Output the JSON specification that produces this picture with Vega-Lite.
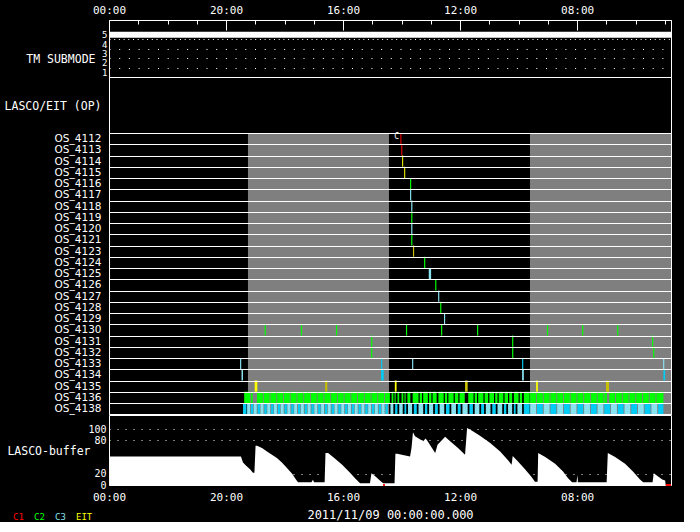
{
  "$schema": "https://vega.github.io/schema/vega-lite/v6.json",
  "background": "black",
  "padding": {"left": 3, "top": 3, "right": 0, "bottom": 0},
  "bounds": "flush",
  "spacing": 0,
  "config": {
    "view": {"stroke": "white", "strokeWidth": 1},
    "axis": {"labelColor": "white", "titleColor": "white", "labelFont": "DejaVu Sans Mono", "titleFont": "DejaVu Sans Mono", "titleFontWeight": "normal", "domainColor": "white", "tickColor": "white", "labelOverlap": false, "labelFlush": false},
    "legend": {"labelFont": "DejaVu Sans Mono"}
  },
  "datasets": {
    "mode": [{"t": 0, "mode": 5}, {"t": 19.21, "mode": 5}],
    "bg": [{"s": 4.75, "e": 9.57}, {"s": 14.39, "e": 19.21}],
    "ev": [
      {"os": "OS_4112", "s": 9.96, "e": 9.995, "c": "C1"},
      {"os": "OS_4113", "s": 9.99, "e": 10.025, "c": "C1"},
      {"os": "OS_4114", "s": 10.02, "e": 10.055, "c": "EIT"},
      {"os": "OS_4115", "s": 10.09, "e": 10.125, "c": "EIT"},
      {"os": "OS_4116", "s": 10.29, "e": 10.33, "c": "C2"},
      {"os": "OS_4117", "s": 10.29, "e": 10.33, "c": "C3"},
      {"os": "OS_4118", "s": 10.33, "e": 10.37, "c": "C3"},
      {"os": "OS_4119", "s": 10.33, "e": 10.37, "c": "C2"},
      {"os": "OS_4120", "s": 10.33, "e": 10.37, "c": "C3"},
      {"os": "OS_4121", "s": 10.33, "e": 10.37, "c": "C2"},
      {"os": "OS_4123", "s": 10.39, "e": 10.43, "c": "EITd"},
      {"os": "OS_4124", "s": 10.77, "e": 10.81, "c": "C2"},
      {"os": "OS_4125", "s": 10.93, "e": 11.01, "c": "C3"},
      {"os": "OS_4126", "s": 11.15, "e": 11.19, "c": "C2"},
      {"os": "OS_4127", "s": 11.25, "e": 11.29, "c": "C3"},
      {"os": "OS_4128", "s": 11.32, "e": 11.36, "c": "C2"},
      {"os": "OS_4129", "s": 11.45, "e": 11.49, "c": "C3"},
      {"os": "OS_4130", "s": 5.32, "e": 5.36, "c": "C2"},
      {"os": "OS_4130", "s": 6.56, "e": 6.6, "c": "C2"},
      {"os": "OS_4130", "s": 7.76, "e": 7.8, "c": "C2"},
      {"os": "OS_4130", "s": 10.15, "e": 10.19, "c": "C2"},
      {"os": "OS_4130", "s": 11.35, "e": 11.39, "c": "C2"},
      {"os": "OS_4130", "s": 12.58, "e": 12.62, "c": "C2"},
      {"os": "OS_4130", "s": 14.97, "e": 15.01, "c": "C2"},
      {"os": "OS_4130", "s": 16.17, "e": 16.21, "c": "C2"},
      {"os": "OS_4130", "s": 17.37, "e": 17.41, "c": "C2"},
      {"os": "OS_4131", "s": 8.96, "e": 9.0, "c": "C2"},
      {"os": "OS_4131", "s": 13.78, "e": 13.82, "c": "C2"},
      {"os": "OS_4131", "s": 18.56, "e": 18.6, "c": "C2"},
      {"os": "OS_4132", "s": 8.96, "e": 9.0, "c": "C2"},
      {"os": "OS_4132", "s": 13.78, "e": 13.82, "c": "C2"},
      {"os": "OS_4132", "s": 18.6, "e": 18.64, "c": "C2"},
      {"os": "OS_4133", "s": 4.48, "e": 4.52, "c": "C3"},
      {"os": "OS_4133", "s": 9.3, "e": 9.34, "c": "C3b"},
      {"os": "OS_4133", "s": 10.36, "e": 10.4, "c": "C3"},
      {"os": "OS_4133", "s": 14.12, "e": 14.16, "c": "C3b"},
      {"os": "OS_4133", "s": 18.94, "e": 18.98, "c": "C3"},
      {"os": "OS_4134", "s": 4.53, "e": 4.58, "c": "C3"},
      {"os": "OS_4134", "s": 9.3, "e": 9.39, "c": "C3b"},
      {"os": "OS_4134", "s": 14.12, "e": 14.18, "c": "C3"},
      {"os": "OS_4134", "s": 18.95, "e": 19.01, "c": "C3b"},
      {"os": "OS_4135", "s": 4.98, "e": 5.07, "c": "EIT"},
      {"os": "OS_4135", "s": 7.39, "e": 7.46, "c": "EITd"},
      {"os": "OS_4135", "s": 9.77, "e": 9.83, "c": "EIT"},
      {"os": "OS_4135", "s": 12.17, "e": 12.26, "c": "EITd"},
      {"os": "OS_4135", "s": 14.6, "e": 14.66, "c": "EIT"},
      {"os": "OS_4135", "s": 16.99, "e": 17.09, "c": "EITd"},
      {"os": "OS_4136", "s": 4.62, "e": 4.82, "c": "C2"},
      {"os": "OS_4136", "s": 4.85, "e": 4.91, "c": "C2"},
      {"os": "OS_4136", "s": 5.06, "e": 5.26, "c": "C2"},
      {"os": "OS_4136", "s": 5.29, "e": 5.49, "c": "C2"},
      {"os": "OS_4136", "s": 5.52, "e": 5.72, "c": "C2"},
      {"os": "OS_4136", "s": 5.75, "e": 5.95, "c": "C2"},
      {"os": "OS_4136", "s": 5.98, "e": 6.18, "c": "C2"},
      {"os": "OS_4136", "s": 6.21, "e": 6.41, "c": "C2"},
      {"os": "OS_4136", "s": 6.44, "e": 6.64, "c": "C2"},
      {"os": "OS_4136", "s": 6.67, "e": 6.87, "c": "C2"},
      {"os": "OS_4136", "s": 6.9, "e": 7.1, "c": "C2"},
      {"os": "OS_4136", "s": 7.13, "e": 7.33, "c": "C2"},
      {"os": "OS_4136", "s": 7.36, "e": 7.56, "c": "C2"},
      {"os": "OS_4136", "s": 7.59, "e": 7.79, "c": "C2"},
      {"os": "OS_4136", "s": 7.82, "e": 8.02, "c": "C2"},
      {"os": "OS_4136", "s": 8.05, "e": 8.25, "c": "C2"},
      {"os": "OS_4136", "s": 8.28, "e": 8.48, "c": "C2"},
      {"os": "OS_4136", "s": 8.51, "e": 8.71, "c": "C2"},
      {"os": "OS_4136", "s": 8.74, "e": 8.94, "c": "C2"},
      {"os": "OS_4136", "s": 8.97, "e": 9.17, "c": "C2"},
      {"os": "OS_4136", "s": 9.2, "e": 9.4, "c": "C2"},
      {"os": "OS_4136", "s": 9.43, "e": 9.6, "c": "C2"},
      {"os": "OS_4136", "s": 9.66, "e": 9.72, "c": "C2"},
      {"os": "OS_4136", "s": 9.76, "e": 9.8, "c": "C2"},
      {"os": "OS_4136", "s": 9.86, "e": 9.92, "c": "C2"},
      {"os": "OS_4136", "s": 10.0, "e": 10.06, "c": "C2"},
      {"os": "OS_4136", "s": 10.1, "e": 10.14, "c": "C2"},
      {"os": "OS_4136", "s": 10.2, "e": 10.3, "c": "C2"},
      {"os": "OS_4136", "s": 10.38, "e": 10.58, "c": "C2"},
      {"os": "OS_4136", "s": 10.62, "e": 10.7, "c": "C2"},
      {"os": "OS_4136", "s": 10.74, "e": 10.9, "c": "C2"},
      {"os": "OS_4136", "s": 10.94, "e": 11.02, "c": "C2"},
      {"os": "OS_4136", "s": 11.06, "e": 11.2, "c": "C2"},
      {"os": "OS_4136", "s": 11.26, "e": 11.44, "c": "C2"},
      {"os": "OS_4136", "s": 11.48, "e": 11.56, "c": "C2"},
      {"os": "OS_4136", "s": 11.6, "e": 11.78, "c": "C2"},
      {"os": "OS_4136", "s": 11.82, "e": 11.94, "c": "C2"},
      {"os": "OS_4136", "s": 11.98, "e": 12.16, "c": "C2"},
      {"os": "OS_4136", "s": 12.28, "e": 12.46, "c": "C2"},
      {"os": "OS_4136", "s": 12.5, "e": 12.58, "c": "C2"},
      {"os": "OS_4136", "s": 12.62, "e": 12.8, "c": "C2"},
      {"os": "OS_4136", "s": 12.84, "e": 12.96, "c": "C2"},
      {"os": "OS_4136", "s": 13.0, "e": 13.16, "c": "C2"},
      {"os": "OS_4136", "s": 13.2, "e": 13.28, "c": "C2"},
      {"os": "OS_4136", "s": 13.32, "e": 13.48, "c": "C2"},
      {"os": "OS_4136", "s": 13.52, "e": 13.64, "c": "C2"},
      {"os": "OS_4136", "s": 13.68, "e": 13.78, "c": "C2"},
      {"os": "OS_4136", "s": 13.84, "e": 14.0, "c": "C2"},
      {"os": "OS_4136", "s": 14.04, "e": 14.12, "c": "C2"},
      {"os": "OS_4136", "s": 14.18, "e": 14.38, "c": "C2"},
      {"os": "OS_4136", "s": 14.4, "e": 14.6, "c": "C2"},
      {"os": "OS_4136", "s": 14.63, "e": 14.83, "c": "C2"},
      {"os": "OS_4136", "s": 14.86, "e": 15.06, "c": "C2"},
      {"os": "OS_4136", "s": 15.09, "e": 15.29, "c": "C2"},
      {"os": "OS_4136", "s": 15.32, "e": 15.52, "c": "C2"},
      {"os": "OS_4136", "s": 15.55, "e": 15.75, "c": "C2"},
      {"os": "OS_4136", "s": 15.78, "e": 15.98, "c": "C2"},
      {"os": "OS_4136", "s": 16.01, "e": 16.21, "c": "C2"},
      {"os": "OS_4136", "s": 16.24, "e": 16.44, "c": "C2"},
      {"os": "OS_4136", "s": 16.47, "e": 16.67, "c": "C2"},
      {"os": "OS_4136", "s": 16.7, "e": 16.9, "c": "C2"},
      {"os": "OS_4136", "s": 16.93, "e": 17.02, "c": "C2"},
      {"os": "OS_4136", "s": 17.1, "e": 17.3, "c": "C2"},
      {"os": "OS_4136", "s": 17.33, "e": 17.53, "c": "C2"},
      {"os": "OS_4136", "s": 17.56, "e": 17.76, "c": "C2"},
      {"os": "OS_4136", "s": 17.79, "e": 17.99, "c": "C2"},
      {"os": "OS_4136", "s": 18.02, "e": 18.22, "c": "C2"},
      {"os": "OS_4136", "s": 18.25, "e": 18.45, "c": "C2"},
      {"os": "OS_4136", "s": 18.48, "e": 18.68, "c": "C2"},
      {"os": "OS_4136", "s": 18.71, "e": 18.95, "c": "C2"},
      {"os": "OS_4138", "s": 4.58, "e": 4.7, "c": "C3b"},
      {"os": "OS_4138", "s": 4.72, "e": 4.82, "c": "C3"},
      {"os": "OS_4138", "s": 4.85, "e": 4.93, "c": "C3b"},
      {"os": "OS_4138", "s": 4.95, "e": 5.05, "c": "C3"},
      {"os": "OS_4138", "s": 5.08, "e": 5.16, "c": "C3b"},
      {"os": "OS_4138", "s": 5.18, "e": 5.28, "c": "C3"},
      {"os": "OS_4138", "s": 5.31, "e": 5.39, "c": "C3b"},
      {"os": "OS_4138", "s": 5.41, "e": 5.51, "c": "C3"},
      {"os": "OS_4138", "s": 5.54, "e": 5.62, "c": "C3b"},
      {"os": "OS_4138", "s": 5.64, "e": 5.74, "c": "C3"},
      {"os": "OS_4138", "s": 5.77, "e": 5.85, "c": "C3b"},
      {"os": "OS_4138", "s": 5.87, "e": 5.97, "c": "C3"},
      {"os": "OS_4138", "s": 6.0, "e": 6.08, "c": "C3b"},
      {"os": "OS_4138", "s": 6.1, "e": 6.2, "c": "C3"},
      {"os": "OS_4138", "s": 6.23, "e": 6.31, "c": "C3b"},
      {"os": "OS_4138", "s": 6.33, "e": 6.43, "c": "C3"},
      {"os": "OS_4138", "s": 6.46, "e": 6.54, "c": "C3b"},
      {"os": "OS_4138", "s": 6.56, "e": 6.66, "c": "C3"},
      {"os": "OS_4138", "s": 6.69, "e": 6.77, "c": "C3b"},
      {"os": "OS_4138", "s": 6.79, "e": 6.89, "c": "C3"},
      {"os": "OS_4138", "s": 6.92, "e": 7.0, "c": "C3b"},
      {"os": "OS_4138", "s": 7.02, "e": 7.12, "c": "C3"},
      {"os": "OS_4138", "s": 7.15, "e": 7.23, "c": "C3b"},
      {"os": "OS_4138", "s": 7.25, "e": 7.35, "c": "C3"},
      {"os": "OS_4138", "s": 7.38, "e": 7.46, "c": "C3b"},
      {"os": "OS_4138", "s": 7.48, "e": 7.58, "c": "C3"},
      {"os": "OS_4138", "s": 7.61, "e": 7.69, "c": "C3b"},
      {"os": "OS_4138", "s": 7.71, "e": 7.81, "c": "C3"},
      {"os": "OS_4138", "s": 7.84, "e": 7.92, "c": "C3b"},
      {"os": "OS_4138", "s": 7.94, "e": 8.04, "c": "C3"},
      {"os": "OS_4138", "s": 8.07, "e": 8.15, "c": "C3b"},
      {"os": "OS_4138", "s": 8.17, "e": 8.27, "c": "C3"},
      {"os": "OS_4138", "s": 8.3, "e": 8.38, "c": "C3b"},
      {"os": "OS_4138", "s": 8.4, "e": 8.5, "c": "C3"},
      {"os": "OS_4138", "s": 8.53, "e": 8.61, "c": "C3b"},
      {"os": "OS_4138", "s": 8.63, "e": 8.73, "c": "C3"},
      {"os": "OS_4138", "s": 8.76, "e": 8.84, "c": "C3b"},
      {"os": "OS_4138", "s": 8.86, "e": 8.96, "c": "C3"},
      {"os": "OS_4138", "s": 8.99, "e": 9.07, "c": "C3b"},
      {"os": "OS_4138", "s": 9.09, "e": 9.19, "c": "C3"},
      {"os": "OS_4138", "s": 9.22, "e": 9.3, "c": "C3b"},
      {"os": "OS_4138", "s": 9.32, "e": 9.42, "c": "C3"},
      {"os": "OS_4138", "s": 9.45, "e": 9.53, "c": "C3b"},
      {"os": "OS_4138", "s": 9.62, "e": 9.72, "c": "C3"},
      {"os": "OS_4138", "s": 9.78, "e": 9.86, "c": "C3b"},
      {"os": "OS_4138", "s": 9.92, "e": 10.04, "c": "C3"},
      {"os": "OS_4138", "s": 10.1, "e": 10.16, "c": "C3b"},
      {"os": "OS_4138", "s": 10.22, "e": 10.36, "c": "C3"},
      {"os": "OS_4138", "s": 10.42, "e": 10.52, "c": "C3b"},
      {"os": "OS_4138", "s": 10.58, "e": 10.74, "c": "C3"},
      {"os": "OS_4138", "s": 10.8, "e": 10.88, "c": "C3b"},
      {"os": "OS_4138", "s": 10.94, "e": 11.08, "c": "C3"},
      {"os": "OS_4138", "s": 11.14, "e": 11.24, "c": "C3b"},
      {"os": "OS_4138", "s": 11.3, "e": 11.46, "c": "C3"},
      {"os": "OS_4138", "s": 11.52, "e": 11.64, "c": "C3b"},
      {"os": "OS_4138", "s": 11.7, "e": 11.86, "c": "C3"},
      {"os": "OS_4138", "s": 11.92, "e": 12.02, "c": "C3b"},
      {"os": "OS_4138", "s": 12.08, "e": 12.26, "c": "C3"},
      {"os": "OS_4138", "s": 12.32, "e": 12.44, "c": "C3b"},
      {"os": "OS_4138", "s": 12.5, "e": 12.66, "c": "C3"},
      {"os": "OS_4138", "s": 12.72, "e": 12.82, "c": "C3b"},
      {"os": "OS_4138", "s": 12.88, "e": 13.04, "c": "C3"},
      {"os": "OS_4138", "s": 13.1, "e": 13.22, "c": "C3b"},
      {"os": "OS_4138", "s": 13.28, "e": 13.44, "c": "C3"},
      {"os": "OS_4138", "s": 13.5, "e": 13.58, "c": "C3b"},
      {"os": "OS_4138", "s": 13.64, "e": 13.78, "c": "C3"},
      {"os": "OS_4138", "s": 13.84, "e": 13.9, "c": "C3b"},
      {"os": "OS_4138", "s": 13.96, "e": 14.12, "c": "C3"},
      {"os": "OS_4138", "s": 14.18, "e": 14.38, "c": "C3b"},
      {"os": "OS_4138", "s": 14.4, "e": 14.6, "c": "C3"},
      {"os": "OS_4138", "s": 14.63, "e": 14.83, "c": "C3b"},
      {"os": "OS_4138", "s": 14.86, "e": 15.06, "c": "C3"},
      {"os": "OS_4138", "s": 15.09, "e": 15.29, "c": "C3b"},
      {"os": "OS_4138", "s": 15.32, "e": 15.52, "c": "C3"},
      {"os": "OS_4138", "s": 15.55, "e": 15.75, "c": "C3b"},
      {"os": "OS_4138", "s": 15.78, "e": 15.98, "c": "C3"},
      {"os": "OS_4138", "s": 16.01, "e": 16.21, "c": "C3b"},
      {"os": "OS_4138", "s": 16.24, "e": 16.44, "c": "C3"},
      {"os": "OS_4138", "s": 16.47, "e": 16.67, "c": "C3b"},
      {"os": "OS_4138", "s": 16.7, "e": 16.9, "c": "C3"},
      {"os": "OS_4138", "s": 16.93, "e": 17.13, "c": "C3b"},
      {"os": "OS_4138", "s": 17.16, "e": 17.36, "c": "C3"},
      {"os": "OS_4138", "s": 17.39, "e": 17.59, "c": "C3b"},
      {"os": "OS_4138", "s": 17.62, "e": 17.82, "c": "C3"},
      {"os": "OS_4138", "s": 17.85, "e": 18.05, "c": "C3b"},
      {"os": "OS_4138", "s": 18.08, "e": 18.28, "c": "C3"},
      {"os": "OS_4138", "s": 18.31, "e": 18.51, "c": "C3b"},
      {"os": "OS_4138", "s": 18.54, "e": 18.74, "c": "C3"},
      {"os": "OS_4138", "s": 18.77, "e": 18.95, "c": "C3b"}
    ],
    "mark": [{"os": "OS_4112", "t": 9.83, "label": "C"}],
    "buf": [
      {"t": 0, "v": 51}, {"t": 4.51, "v": 51}, {"t": 4.58, "v": 40}, {"t": 4.68, "v": 35}, {"t": 4.82, "v": 28}, {"t": 4.92, "v": 22}, {"t": 4.97, "v": 22},
      {"t": 5.01, "v": 70}, {"t": 5.06, "v": 70}, {"t": 5.23, "v": 66}, {"t": 5.4, "v": 60}, {"t": 5.57, "v": 54}, {"t": 5.74, "v": 48}, {"t": 5.91, "v": 40}, {"t": 6.09, "v": 30}, {"t": 6.26, "v": 20}, {"t": 6.39, "v": 10}, {"t": 6.46, "v": 5},
      {"t": 6.92, "v": 5}, {"t": 6.97, "v": 9.5}, {"t": 7.01, "v": 5}, {"t": 7.37, "v": 5},
      {"t": 7.4, "v": 57}, {"t": 7.49, "v": 57}, {"t": 7.73, "v": 47}, {"t": 7.97, "v": 36}, {"t": 8.24, "v": 22}, {"t": 8.41, "v": 12}, {"t": 8.58, "v": 3},
      {"t": 8.92, "v": 3}, {"t": 8.97, "v": 21}, {"t": 9.09, "v": 16}, {"t": 9.26, "v": 8}, {"t": 9.37, "v": 3}, {"t": 9.76, "v": 3},
      {"t": 9.79, "v": 56}, {"t": 9.85, "v": 56}, {"t": 10.29, "v": 51}, {"t": 10.34, "v": 66}, {"t": 10.39, "v": 94}, {"t": 10.46, "v": 87}, {"t": 10.74, "v": 78}, {"t": 10.82, "v": 83}, {"t": 10.87, "v": 80}, {"t": 11.15, "v": 57},
      {"t": 11.23, "v": 72}, {"t": 11.49, "v": 86}, {"t": 11.66, "v": 78}, {"t": 11.93, "v": 66}, {"t": 12.17, "v": 54},
      {"t": 12.24, "v": 102}, {"t": 12.41, "v": 97}, {"t": 12.68, "v": 88}, {"t": 13.03, "v": 75}, {"t": 13.37, "v": 60}, {"t": 13.64, "v": 44}, {"t": 13.76, "v": 36},
      {"t": 13.8, "v": 52}, {"t": 13.98, "v": 42}, {"t": 14.22, "v": 28}, {"t": 14.43, "v": 15}, {"t": 14.56, "v": 6}, {"t": 14.65, "v": 6},
      {"t": 14.67, "v": 57}, {"t": 14.91, "v": 50}, {"t": 15.25, "v": 38}, {"t": 15.52, "v": 24}, {"t": 15.69, "v": 12}, {"t": 15.83, "v": 5},
      {"t": 15.98, "v": 5}, {"t": 16.01, "v": 18}, {"t": 16.03, "v": 5}, {"t": 17.01, "v": 5},
      {"t": 17.05, "v": 57}, {"t": 17.3, "v": 50}, {"t": 17.64, "v": 38}, {"t": 17.91, "v": 24}, {"t": 18.15, "v": 10}, {"t": 18.26, "v": 5},
      {"t": 18.58, "v": 5}, {"t": 18.62, "v": 21}, {"t": 18.77, "v": 15}, {"t": 18.91, "v": 10}, {"t": 19.01, "v": 8}, {"t": 19.03, "v": 0}, {"t": 19.21, "v": 0}
    ],
    "zero": [{"s": 9.37, "e": 9.43, "v": 0}, {"s": 19.03, "e": 19.21, "v": 0}]
  },
  "vconcat": [
    {
      "width": 562,
      "height": 57,
      "data": {"name": "mode"},
      "layer": [
        {
          "mark": {"type": "line", "color": "white", "strokeWidth": 6, "strokeCap": "butt"},
          "encoding": {
            "x": {"field": "t", "type": "quantitative", "scale": {"domain": [0, 19.21], "nice": false, "zero": false},
              "axis": {"orient": "top", "values": [0, 4, 8, 12, 16], "tickSize": -10, "labelPadding": 15, "labelFontSize": 11, "grid": false, "title": null,
                "labelExpr": "(datum.value == 0 ? '00' : (24 - datum.value < 10 ? '0' : '') + (24 - datum.value)) + ':00'"}},
            "y": {"field": "mode", "type": "quantitative", "scale": {"domain": [0.5, 6.56], "nice": false, "zero": false},
              "axis": {"values": [1, 2, 3, 4, 5], "ticks": false, "domain": false, "grid": false, "labelPadding": 2, "labelFontSize": 9,
                "title": "TM SUBMODE", "titleAngle": 0, "titleAlign": "right", "titleBaseline": "middle", "titleX": -14, "titleY": 39, "titleFontSize": 11.5}}
          }
        },
        {
          "mark": {"type": "line", "opacity": 0},
          "encoding": {
            "x": {"field": "t", "type": "quantitative",
              "axis": {"orient": "top", "values": [1, 2, 3, 5, 6, 7, 9, 10, 11, 13, 14, 15, 17, 18, 19], "tickSize": -4, "labels": false, "domain": false, "grid": false, "title": null}},
            "y": {"field": "mode", "type": "quantitative",
              "axis": {"orient": "left", "values": [1.5, 2.5, 3.5, 4.5], "labels": false, "ticks": false, "domain": false, "title": null,
                "grid": true, "gridColor": "white", "gridWidth": 1,
                "gridDash": {"condition": {"test": "datum.value == 4.5", "value": [1, 3.7]}, "value": [1, 8.7]}}}
          }
        }
      ],
      "resolve": {"axis": {"x": "independent", "y": "independent"}}
    },
    {
      "width": 562,
      "height": 56,
      "data": {"name": "mode"},
      "mark": {"type": "point", "opacity": 0},
      "encoding": {
        "x": {"field": "t", "type": "quantitative", "scale": {"domain": [0, 19.21], "nice": false, "zero": false}, "axis": null},
        "y": {"field": "mode", "type": "quantitative", "scale": {"domain": [0, 10], "nice": false},
          "axis": {"labels": false, "ticks": false, "domain": false, "grid": false,
            "title": "LASCO/EIT (OP)", "titleAngle": 0, "titleAlign": "right", "titleBaseline": "middle", "titleX": -8, "titleY": 29, "titleFontSize": 11.5}}
      }
    },
    {
      "width": 562,
      "height": 281.25,
      "layer": [
        {
          "data": {"name": "bg"},
          "mark": {"type": "rect", "color": "#7f7f7f"},
          "encoding": {
            "x": {"field": "s", "type": "quantitative", "scale": {"domain": [0, 19.21], "nice": false, "zero": false}, "axis": null},
            "x2": {"field": "e"}
          }
        },
        {
          "data": {"name": "ev"},
          "mark": {"type": "rect"},
          "encoding": {
            "x": {"field": "s", "type": "quantitative", "axis": null},
            "x2": {"field": "e"},
            "y": {"field": "os", "type": "nominal",
              "scale": {"domain": ["OS_4112", "OS_4113", "OS_4114", "OS_4115", "OS_4116", "OS_4117", "OS_4118", "OS_4119", "OS_4120", "OS_4121", "OS_4123", "OS_4124", "OS_4125", "OS_4126", "OS_4127", "OS_4128", "OS_4129", "OS_4130", "OS_4131", "OS_4132", "OS_4133", "OS_4134", "OS_4135", "OS_4136", "OS_4138"], "paddingInner": 0, "paddingOuter": 0},
              "axis": {"title": null, "ticks": false, "domain": false, "labelPadding": 8, "labelFont": "DejaVu Sans", "labelFontSize": 10.5, "grid": true, "gridColor": "white", "gridWidth": 1, "tickBand": "extent", "zindex": 1}},
            "color": {"field": "c", "type": "nominal",
              "scale": {"domain": ["C1", "C2", "C3", "EIT", "C3b", "EITd"], "range": ["#ff0000", "#00ff00", "#87e3f0", "#ffff00", "#00ccf5", "#c8c000"]},
              "legend": {"orient": "none", "legendX": -105, "legendY": 492, "direction": "horizontal", "values": ["C1", "C2", "C3", "EIT"], "title": null,
                "symbolOpacity": 0, "symbolSize": 0, "symbolStrokeWidth": 0, "labelOffset": 0, "columnPadding": 1, "labelFontSize": 9,
                "labelColor": {"expr": "datum.value === 'C1' ? '#ff0000' : datum.value === 'C2' ? '#00ff00' : datum.value === 'C3' ? '#87e3f0' : '#ffff00'"}}
            }
          }
        },
        {
          "data": {"name": "mark"},
          "mark": {"type": "text", "color": "white", "fontSize": 8, "font": "DejaVu Sans Mono", "dy": -2},
          "encoding": {
            "x": {"field": "t", "type": "quantitative"},
            "y": {"field": "os", "type": "nominal"},
            "text": {"field": "label"}
          }
        }
      ]
    },
    {
      "width": 562,
      "height": 70,
      "encoding": {
        "x": {"type": "quantitative", "scale": {"domain": [0, 19.21], "nice": false, "zero": false},
          "axis": {"orient": "bottom", "values": [0, 4, 8, 12, 16], "ticks": false, "domain": false, "grid": false, "labelPadding": 6, "labelFontSize": 11,
            "labelExpr": "(datum.value == 0 ? '00' : (24 - datum.value < 10 ? '0' : '') + (24 - datum.value)) + ':00'",
            "title": "2011/11/09 00:00:00.000", "titleFontSize": 12, "titleY": 29, "titleBaseline": "middle"}},
        "y": {"field": "v", "type": "quantitative", "scale": {"domain": [0, 125], "nice": false},
          "axis": {"values": [0, 20, 80, 100], "ticks": false, "domain": false, "labelPadding": 3, "labelFontSize": 10,
            "grid": true, "gridColor": "white", "gridDash": [1, 7],
            "title": "LASCO-buffer", "titleAngle": 0, "titleAlign": "right", "titleBaseline": "middle", "titleX": -19, "titleY": 36, "titleFontSize": 11.5}}
      },
      "layer": [
        {
          "data": {"name": "buf"},
          "mark": {"type": "area", "color": "white", "opacity": 1},
          "encoding": {
            "x": {"field": "t"}
          }
        },
        {
          "data": {"name": "zero"},
          "mark": {"type": "rule", "color": "#ff0000", "strokeWidth": 2},
          "encoding": {
            "x": {"field": "s"},
            "x2": {"field": "e"}
          }
        }
      ]
    }
  ]
}
